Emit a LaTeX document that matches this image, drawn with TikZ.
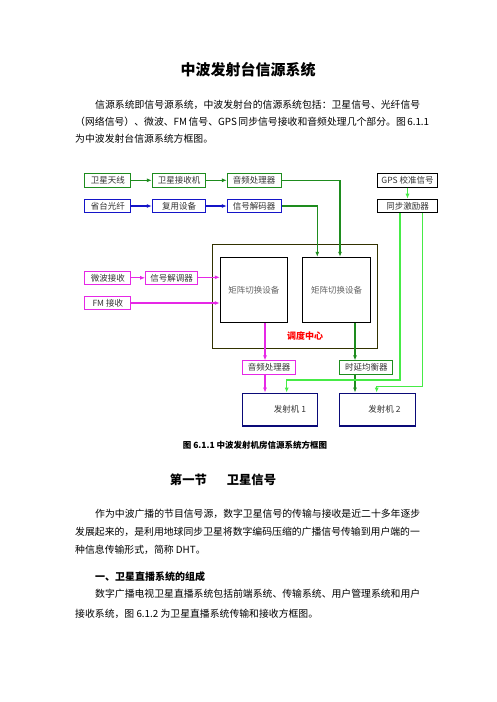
\documentclass[tikz,border=0pt]{standalone}
\usepackage{fontspec}
\setmainfont{Noto Sans CJK SC}
\usetikzlibrary{arrows.meta, positioning, calc}
\XeTeXlinebreaklocale "zh"
\XeTeXlinebreakskip=0pt plus 1pt
\definecolor{srcgreen}{RGB}{30, 140, 30}
\definecolor{syncgreen}{RGB}{70, 235, 70}
\definecolor{srcblue}{RGB}{20, 20, 200}
\definecolor{srcmagenta}{RGB}{230, 40, 230}
\definecolor{txnavy}{RGB}{10, 10, 120}
\definecolor{ctrolive}{RGB}{50, 50, 0}
\newcommand\jline[2]{\hbox to #1{#2}}

\begin{document}
\begin{tikzpicture}[
    x=1pt, y=-1pt,
    box/.style={draw, line width=1pt, minimum height=13.6pt,
                inner sep=0pt, text=black!80,
                font=\fontsize{8.5}{9}\selectfont},
    gbox/.style={box, draw=srcgreen},
    bbox/.style={box, draw=srcblue},
    mbox/.style={box, draw=srcmagenta},
    kbox/.style={box, draw=black, minimum width=60.4pt},
    mxbox/.style={box, draw=black, minimum height=65pt, text=black!60},
    txbox/.style={box, draw=txnavy, line width=1.5pt,
                minimum height=32.7pt},
    body/.style={anchor=base west, inner sep=0pt,
                font=\fontsize{9.85}{12}\selectfont},
    arr/.style={-{Latex[length=5pt, width=4pt]}, line width=1.3pt},
  ]
    \fill[white] (0,0) rectangle (496,702);
    \useasboundingbox (0,0) rectangle (496,702);

    % Title and first paragraph
    \node[font=\fontsize{15}{16}\bfseries] (title) at (248,70) {中波发射台信源系统};
    \node[body] (p1a) at (95,108.7) {\jline{325pt}{信源系统即信号源系统，中波发射台的信源系统包括：卫星信号、光纤信号}};
    \node[body] (p1b) at (75,125.7) {\jline{345pt}{（网络信号）、微波、FM 信号、GPS 同步信号接收和音频处理几个部分。图 6.1.1}};
    \node[body] (p1c) at (75,142.7) {为中波发射台信源系统方框图。};

    % Satellite and fibre chains
    \node[gbox, minimum width=45.7pt] (wxtx) at (107.8,180.3) {卫星天线};
    \node[gbox, minimum width=53.4pt] (wxjs) at (179,180.3)   {卫星接收机};
    \node[gbox, minimum width=53.7pt] (ypcl1) at (254.2,180.3) {音频处理器};
    \node[bbox, minimum width=45.7pt] (sgx) at (107.8,206)    {省台光纤};
    \node[bbox, minimum width=53.4pt] (fysb) at (179,206)     {复用设备};
    \node[bbox, minimum width=53.7pt] (xhjm) at (254.2,206)   {信号解码器};

    % GPS synchronisation
    \node[kbox] (gps)  at (407.5,180.3) {GPS 校准信号};
    \node[kbox] (tbjl) at (407.5,206)   {同步激励器};

    % Dispatch centre
    \node[draw=ctrolive, line width=1pt, minimum width=165pt,
          minimum height=104pt] (ddzx) at (294.8,296.3) {};
    \node[mxbox, minimum width=67pt] (jz1)   at (253.8,289.8) {矩阵切换设备};
    \node[mxbox, minimum width=68.4pt] (jz2) at (336.5,289.8) {矩阵切换设备};
    \node[text=red, font=\fontsize{9}{10}\bfseries] (ddlbl) at (305,336) {调度中心};

    % Microwave and FM
    \node[mbox, minimum width=45.7pt] (wbjs) at (107.8,277.8) {微波接收};
    \node[mbox, minimum width=51.6pt] (xhjt) at (171.5,277.8) {信号解调器};
    \node[mbox, minimum width=45.7pt, minimum height=12.6pt] (fmjs) at (107.8,303) {FM 接收};

    % Output chain
    \node[mbox, minimum width=53pt] (ypcl2) at (269.2,367.7) {音频处理器};
    \node[gbox, minimum width=52.7pt] (syjh) at (366.3,367.7) {时延均衡器};
    \node[txbox, minimum width=75.4pt] (fsj1) at (280,409.7) {\hspace*{20pt}发射机\ 1};
    \node[txbox, minimum width=76.4pt] (fsj2) at (377.5,409.7) {\hspace*{14pt}发射机\ 2};

    \coordinate (g1) at (286.7,380);
    \coordinate (g2) at (376.7,386.7);

    \draw[arr, srcgreen] (wxtx) -- (wxjs);
    \draw[arr, srcgreen] (wxjs) -- (ypcl1);
    \draw[arr, srcgreen] (ypcl1) -| ([xshift=3.5pt]jz2.north);
    \draw[arr, srcblue] (sgx) -- (fysb);
    \draw[arr, srcblue] (fysb) -- (xhjm);
    \draw[arr, srcgreen] (xhjm) -| ([xshift=-19.2pt]jz2.north);
    \draw[arr, srcmagenta] (wbjs) -- (xhjt);
    \draw[arr, srcmagenta] ([yshift=0.5pt]xhjt.east) -- ([yshift=0.5pt]xhjt.east -| jz1.west);
    \draw[arr, srcmagenta] (fmjs) -- (fmjs -| jz1.west);
    \draw[arr, srcmagenta] ([xshift=11.2pt]jz1.south) -- ([xshift=11.2pt]jz1.south |- ypcl2.north);
    \draw[arr, srcmagenta] ([xshift=-4.2pt]ypcl2.south) -- ([xshift=-4.2pt]ypcl2.south |- fsj1.north);
    \draw[arr, srcgreen] ([xshift=18.5pt]jz2.south) -- ([xshift=18.5pt]jz2.south |- syjh.north);
    \draw[arr, srcgreen] ([xshift=-11.3pt]syjh.south) -- ([xshift=-11.3pt]syjh.south |- fsj2.north);
    \draw[arr, syncgreen] (gps) -- (tbjl);
    \draw[arr, syncgreen] ([xshift=-7.5pt]tbjl.south) |- (g1) -- (g1 |- fsj1.north);
    \draw[arr, syncgreen] ([xshift=15.2pt]tbjl.south) |- (g2) -- (g2 |- fsj2.north);

    % Caption, section and following text
    \node[font=\fontsize{8.5}{9}\bfseries] (cap) at (255,445.7) {图 6.1.1 中波发射机房信源系统方框图};
    \node[font=\fontsize{12.3}{13}\bfseries] (sec) at (223,479.3) {第一节\hspace{20pt}卫星信号};
    \node[body] (p2a) at (95,517) {\jline{325pt}{作为中波广播的节目信号源，数字卫星信号的传输与接收是近二十多年逐步}};
    \node[body] (p2b) at (75,535.4) {\jline{345pt}{发展起来的，是利用地球同步卫星将数字编码压缩的广播信号传输到用户端的一}};
    \node[body] (p2c) at (75,553) {种信息传输形式，简称 DHT。};
    \node[body, font=\fontsize{10}{12}\bfseries] (h1) at (95,580.5) {一、卫星直播系统的组成};
    \node[body] (p3a) at (95,597.7) {\jline{325pt}{数字广播电视卫星直播系统包括前端系统、传输系统、用户管理系统和用户}};
    \node[body] (p3b) at (75,617) {接收系统，图 6.1.2 为卫星直播系统传输和接收方框图。};
  \end{tikzpicture}
\end{document}
